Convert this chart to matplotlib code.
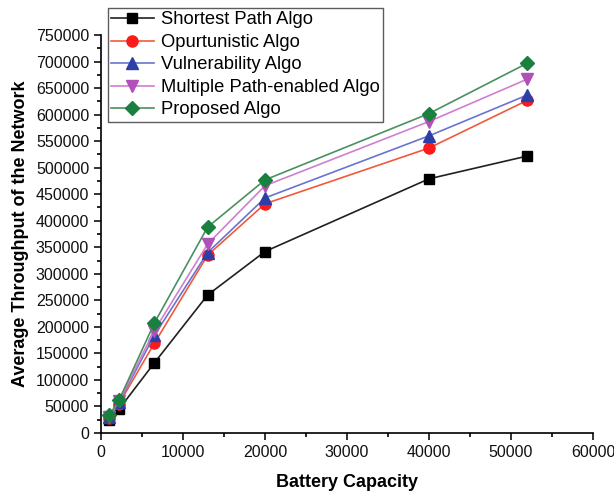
import matplotlib
matplotlib.use("Agg")
import matplotlib.pyplot as plt
from matplotlib.ticker import MultipleLocator

battery = [1000, 2200, 6500, 13000, 20000, 40000, 52000]
shortest = [24000, 45000, 132000, 260000, 342000, 479000, 522000]
opportunistic = [29000, 55000, 169000, 335000, 432000, 537000, 627000]
vulnerability = [30000, 58000, 184000, 340000, 443000, 560000, 637000]
multipath = [31000, 60000, 193000, 356000, 466000, 587000, 667000]
proposed = [33000, 62000, 207000, 388000, 477000, 602000, 697000]

labels = ["Shortest Path Algo", "Opurtunistic Algo", "Vulnerability Algo",
          "Multiple Path-enabled Algo", "Proposed Algo"]
series = [shortest, opportunistic, vulnerability, multipath, proposed]
line_colors = ["#202020", "#f05a3c", "#6a74d0", "#d07fd0", "#4a9060"]
marker_colors = ["#000000", "#ff1a1a", "#2c3fa8", "#b050b8", "#1a8040"]
markers = ["s", "o", "^", "v", "D"]
msizes = [7, 8, 8, 8, 7]

plt.rcParams['font.family'] = ['Liberation Sans', 'DejaVu Sans']

fig = plt.figure(figsize=(6.14, 4.96), dpi=100)
ax = fig.add_axes([0.1645, 0.127, 0.8013, 0.8024])

for y, lab, lc, mc, m, ms in zip(series, labels, line_colors, marker_colors, markers, msizes):
    ax.plot(battery, y, color=lc, lw=1.2, marker=m, markersize=ms,
            markerfacecolor=mc, markeredgecolor=mc, label=lab)

ax.set_xlim(0, 60000)
ax.set_ylim(0, 750000)
ax.xaxis.set_major_locator(MultipleLocator(10000))
ax.xaxis.set_minor_locator(MultipleLocator(5000))
ax.yaxis.set_major_locator(MultipleLocator(50000))
ax.yaxis.set_minor_locator(MultipleLocator(25000))
ax.tick_params(which='major', direction='out', length=5, width=1.2, labelsize=11.5, colors='#111111')
ax.tick_params(which='minor', direction='out', length=3, width=1.2)
ax.spines['top'].set_visible(False)
ax.spines['right'].set_visible(False)
for s in ['left', 'bottom']:
    ax.spines[s].set_linewidth(1.2)

ax.set_xlabel("Battery Capacity", fontsize=13, fontweight='bold', labelpad=10)
ax.set_ylabel("Average Throughput of the Network", fontsize=13, fontweight='bold', labelpad=5)

leg = fig.legend(loc='upper left', bbox_to_anchor=(0.170, 0.991), fontsize=13.2,
                 frameon=True, fancybox=False, edgecolor='#333333',
                 handlelength=2.3, borderpad=0.18, labelspacing=0.3, handletextpad=0.4,
                 borderaxespad=0.2)
leg.get_frame().set_linewidth(1.0)

fig.savefig("out.png", dpi=100)
